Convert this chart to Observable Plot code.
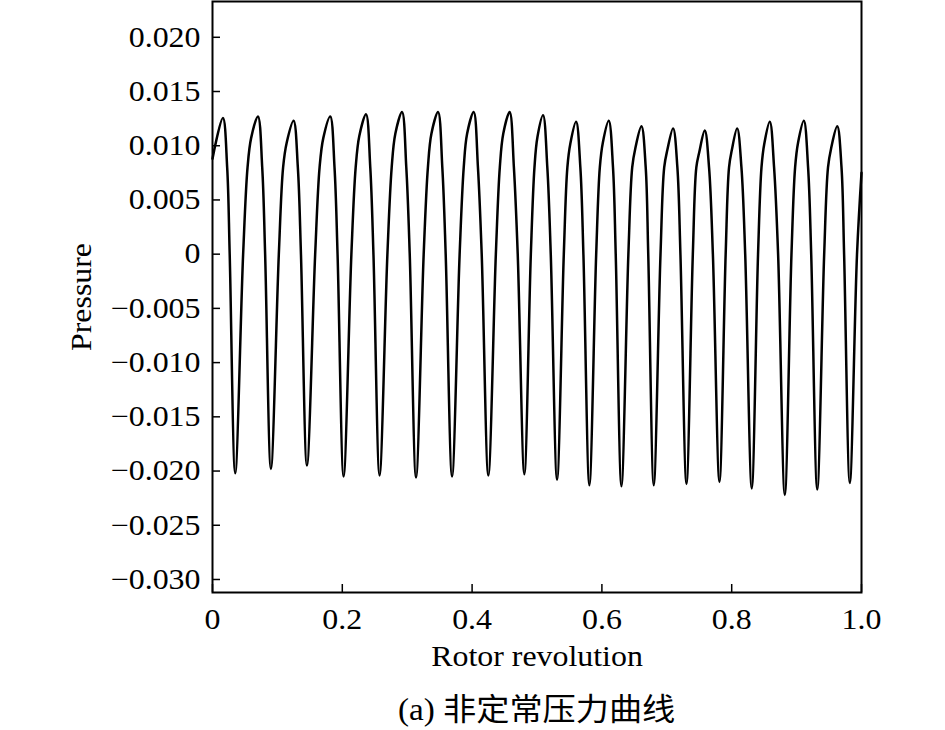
<!DOCTYPE html>
<html><head><meta charset="utf-8">
<script src="https://cdn.jsdelivr.net/npm/d3@7"></script>
<script src="https://cdn.jsdelivr.net/npm/@observablehq/plot@0.6"></script>
<style>
body{margin:0;background:#fff;}
#caption{margin-left:212px;width:649px;text-align:center;font-family:"Liberation Serif","Noto Sans CJK SC",serif;font-size:31px;line-height:40px;padding-top:10px;color:#000;}
#caption span{display:inline-block;transform:scaleX(1.07);}
</style></head><body><div id="chart"></div><div id="caption"><span>(a) 非定常压力曲线</span></div>
<script>
// ---- data ----
const startPoint = {x: 0, y: 0.0088};
const endPoint = {x: 1.0, y: 0.0075};
const peakX = [0.0160,0.0700,0.1249,0.1814,0.2365,0.2920,0.3475,0.4024,0.4578,0.5093,0.5602,0.6105,0.6609,0.7097,0.7585,0.8084,0.8587,0.9111,0.9626];
const peakY = [0.01255,0.0127,0.0123,0.0127,0.0129,0.0131,0.0131,0.0131,0.0131,0.0128,0.0122,0.0123,0.0118,0.0116,0.0114,0.0116,0.0122,0.0123,0.0118];
const fallMidLevel = 0.008;
const fallMidX = [0.0226,0.0766,0.1315,0.1880,0.2431,0.2986,0.3541,0.4090,0.4644,0.5159,0.5668,0.6171,0.6675,0.7163,0.7651,0.8150,0.8653,0.9177,0.9692];
const fallZeroX = [0.0265,0.0811,0.1363,0.1927,0.2480,0.3039,0.3593,0.4148,0.4703,0.5212,0.5715,0.6213,0.6714,0.7210,0.7710,0.8208,0.8715,0.9225,0.9732];
const troughX = [0.0350,0.0900,0.1455,0.2020,0.2574,0.3136,0.3691,0.4250,0.4805,0.5309,0.5807,0.6301,0.6799,0.7303,0.7811,0.8309,0.8818,0.9318,0.9820];
const troughY = [-0.0202,-0.0198,-0.0195,-0.0205,-0.0204,-0.0206,-0.0205,-0.0204,-0.0203,-0.0208,-0.0213,-0.0214,-0.0213,-0.0212,-0.0210,-0.0216,-0.0222,-0.0217,-0.0211];
const riseZeroX = [0.0472,0.1022,0.1582,0.2140,0.2695,0.3254,0.3808,0.4366,0.4905,0.5413,0.5912,0.6408,0.6903,0.7401,0.7907,0.8406,0.8921,0.9425,0.9931];
const riseMidLevel = 0.008;
const riseMidX = [0.0540,0.1088,0.1650,0.2206,0.2761,0.3319,0.3871,0.4427,0.4961,0.5468,0.5968,0.6467,0.6960,0.7455,0.7959,0.8459,0.8977,0.9484];
const riseUpperX = [0.0595,0.1144,0.1707,0.2262,0.2817,0.3373,0.3923,0.4480,0.5007,0.5514,0.6015,0.6516,0.7008,0.7500,0.8002,0.8503,0.9023,0.9533];
const riseUpperY = [0.0107,0.0103,0.0107,0.0109,0.0111,0.0111,0.0111,0.0111,0.0108,0.0102,0.0103,0.0098,0.0096,0.0094,0.0096,0.0102,0.0103,0.0098];
const yTicks = [-0.030,-0.025,-0.020,-0.015,-0.010,-0.005,0,0.005,0.010,0.015,0.020];
const xTicks = [0,0.2,0.4,0.6,0.8,1.0];

// ---- assemble the trace from the read points ----
const pts = [startPoint];
for (let i = 0; i < peakX.length; i++) {
  pts.push({x: peakX[i], y: peakY[i]});
  pts.push({x: fallMidX[i], y: fallMidLevel});
  pts.push({x: fallZeroX[i], y: 0});
  pts.push({x: troughX[i], y: troughY[i]});
  pts.push({x: riseZeroX[i], y: 0});
  if (i < riseMidX.length) {
    pts.push({x: riseMidX[i], y: riseMidLevel});
    pts.push({x: riseUpperX[i], y: riseUpperY[i]});
  }
}
pts.push(endPoint);

const fmtY = d => d === 0 ? "0" : (d < 0 ? "\u2212" : "") + Math.abs(d).toFixed(3);
const fmtX = d => d === 0 ? "0" : d.toFixed(1);

const chart = Plot.plot({
  width: 945, height: 680,
  marginLeft: 212, marginRight: 84, marginTop: 1, marginBottom: 88,
  style: {fontFamily: '"Liberation Serif", "Times New Roman", serif', fontSize: "29px", color: "#000", background: "#fff"},
  x: {domain: [0, 1]},
  y: {domain: [-0.0312, 0.0233]},
  marks: [
    Plot.axisY(yTicks, {anchor: "left", tickSize: -8, tickPadding: 20, tickFormat: fmtY, strokeWidth: 1.5,
      label: "Pressure", labelAnchor: "center", labelOffset: 142, labelArrow: "none"}),
    Plot.axisX(xTicks, {anchor: "bottom", tickSize: -8, tickPadding: 24, tickFormat: fmtX, strokeWidth: 1.5,
      label: "Rotor revolution", labelAnchor: "center", labelOffset: 73, labelArrow: "none"}),
    Plot.line(pts, {x: "x", y: "y", curve: "catmull-rom", stroke: "#000", strokeWidth: 2.5}),
    Plot.frame({stroke: "#000", strokeWidth: 2})
  ]
});
// widen the serif glyphs horizontally (about each text's own anchor), as in the reference typesetting
chart.querySelectorAll("text").forEach(t => {
  const tr = t.getAttribute("transform");
  if (tr) t.setAttribute("transform", tr + " scale(1.1,1)");
});
document.getElementById("chart").appendChild(chart);
</script>
</body></html>
